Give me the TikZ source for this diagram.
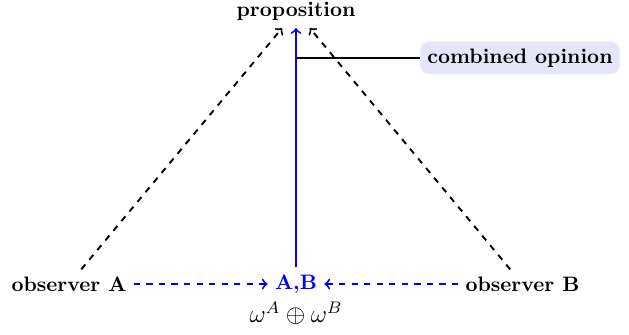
\documentclass[tikz,border=0pt]{standalone}
\usepackage{amsmath,amssymb}
\usepackage{xcolor}
\usepackage{tikz}
\usetikzlibrary{positioning}
\definecolor{OPFill}{HTML}{E6E6FA}

\begin{document}
\begin{tikzpicture}[font=\bfseries]
\useasboundingbox (-141.6pt,-23.9pt) rectangle (159.3pt,135.9pt);
\node[text=blue] (ab) at (0,0) {A,B};
\node[left=64pt of ab] (obsA) {observer A};
\node[right=64pt of ab] (obsB) {observer B};
\node[above=114.5pt of ab] (prop) {proposition};
\node[below=-3pt of ab,font=\normalfont\large] (fused) {$\omega^A\oplus\omega^B$};
\draw[->,line width=0.9pt,dashed] (obsA)--(prop);
\draw[->,line width=0.9pt,dashed] (obsB)--(prop);
\draw[->,line width=0.9pt,dashed,blue] (obsA)--(ab);
\draw[->,line width=0.9pt,dashed,blue] (obsB)--(ab);
\draw[->,line width=0.9pt,blue] (ab)--coordinate[pos=0.875] (split) (prop);
\node[fill=OPFill,rounded corners=4pt,anchor=west] (comb) at ([xshift=59.3pt]split) {combined opinion};
\draw[line width=0.9pt] (split)--(comb);
\end{tikzpicture}
\end{document}
